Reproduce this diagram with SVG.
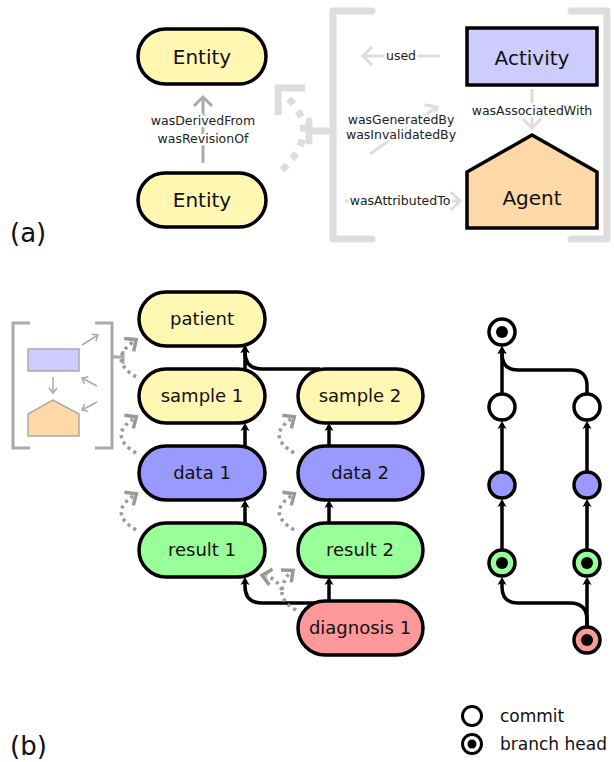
<svg xmlns="http://www.w3.org/2000/svg" width="614" height="762" viewBox="0 0 614 762">
<style>
text{font-family:"DejaVu Sans","Liberation Sans",sans-serif;fill:#111;}
.node{stroke:#000;stroke-width:3.5;}
.yel{fill:#fff7b2;}
.blu{fill:#9999ff;}
.grn{fill:#99ff99;}
.red{fill:#ff9999;}
.big{font-size:20px;text-anchor:middle;}
.nt{font-size:18px;text-anchor:middle;}
.lbl{font-size:12.5px;text-anchor:middle;fill:#222;stroke:#fff;stroke-width:5;paint-order:stroke;stroke-linejoin:round;}
.lt{fill:none;stroke:#ddd;stroke-width:3;}
.br{fill:none;stroke:#ddd;stroke-width:7;stroke-linecap:round;stroke-linejoin:round;}
.con{fill:none;stroke:#000;stroke-width:3.5;}
.dot{fill:none;stroke:#999;stroke-width:3.5;stroke-dasharray:3 4;}
.mini{fill:none;stroke:#aaa;stroke-width:1.5;}
.gnode{stroke:#000;stroke-width:3.5;}
</style>
<defs>
<marker id="ah" markerUnits="userSpaceOnUse" viewBox="-8 -8 16 16" markerWidth="16" markerHeight="16" refX="0" refY="0" orient="auto">
<path d="M -5 -4.5 L 3 0 L -5 4.5 L -3 0 z" fill="#000"/>
</marker>
<marker id="gl" markerUnits="userSpaceOnUse" viewBox="-12 -12 24 24" markerWidth="24" markerHeight="24" refX="0" refY="0" orient="auto">
<path d="M -9 -9 L 0 0 L -9 9" fill="none" stroke="#ddd" stroke-width="3"/>
</marker>
<marker id="gd" markerUnits="userSpaceOnUse" viewBox="-12 -12 24 24" markerWidth="24" markerHeight="24" refX="0" refY="0" orient="auto">
<path d="M -9 -9 L 0 0 L -9 9" fill="none" stroke="#aaa" stroke-width="3"/>
</marker>
<marker id="gb" markerUnits="userSpaceOnUse" viewBox="-30 -30 60 60" markerWidth="60" markerHeight="60" refX="0" refY="0" orient="auto">
<path d="M -5 -19 L 14 0 L -5 19" fill="none" stroke="#ddd" stroke-width="7"/>
</marker>
<marker id="gp" markerUnits="userSpaceOnUse" viewBox="-12 -12 24 24" markerWidth="24" markerHeight="24" refX="0" refY="0" orient="auto">
<path d="M -5 -8 L 4 0 L -5 8" fill="none" stroke="#999" stroke-width="3.5"/>
</marker>
<marker id="gm" markerUnits="userSpaceOnUse" viewBox="-8 -8 16 16" markerWidth="16" markerHeight="16" refX="0" refY="0" orient="auto">
<path d="M -5 -4 L 0 0 L -5 4" fill="none" stroke="#aaa" stroke-width="1.5"/>
</marker>
</defs>
<rect width="614" height="762" fill="#fff"/>

<!-- Panel (a) -->
<text x="10" y="242" font-size="26">(a)</text>
<g id="a-bracket">
<path class="br" d="M 372 11 L 333 11 L 333 239 L 372 239"/>
<path class="br" d="M 571 11 L 607 11 L 607 239 L 571 239"/>
<path class="br" d="M 333 131 L 309 131 M 309 121 L 309 141"/>
</g>
<g id="a-connectors">
<path d="M 203 163 L 203 97" fill="none" stroke="#aaa" stroke-width="3" marker-end="url(#gd)"/>
<path d="M 282 170 Q 322 132 288 98" fill="none" stroke="#ddd" stroke-width="7" stroke-dasharray="7 8" marker-end="url(#gb)"/>
<path class="lt" d="M 440 56 L 363 56" marker-end="url(#gl)"/>
<path class="lt" d="M 532 89 L 532 128" marker-end="url(#gl)"/>
<path class="lt" d="M 370 154 L 437 107" marker-end="url(#gl)"/>
<path class="lt" d="M 345 201 L 460 201" marker-end="url(#gl)"/>
<text class="lbl" x="203" y="125">wasDerivedFrom</text>
<text class="lbl" x="203" y="143">wasRevisionOf</text>
<text class="lbl" x="401" y="60">used</text>
<text class="lbl" x="532" y="115">wasAssociatedWith</text>
<text class="lbl" x="401" y="124">wasGeneratedBy</text>
<text class="lbl" x="401" y="139">wasInvalidatedBy</text>
<text class="lbl" x="400" y="205">wasAttributedTo</text>
</g>
<g id="entity1">
<rect class="node yel" x="138" y="29" width="128" height="55" rx="27.5"/>
<text class="big" x="202" y="64">Entity</text>
</g>
<g id="entity2">
<rect class="node yel" x="138" y="173" width="128" height="54" rx="27"/>
<text class="big" x="202" y="207">Entity</text>
</g>
<g id="activity">
<rect class="node" fill="#ccccff" x="467" y="28" width="130" height="57"/>
<text class="big" x="532" y="65" font-size="21">Activity</text>
</g>
<g id="agent">
<polygon class="node" fill="#ffd8a8" points="467,172 532,135 597,172 597,228 467,228"/>
<text class="big" x="532" y="205" font-size="21">Agent</text>
</g>

<!-- Panel (b) -->
<text x="10" y="755" font-size="26">(b)</text>
<g id="mini-legend">
<path fill="none" stroke="#aaa" stroke-width="3" d="M 30 323 L 13 323 L 13 448 L 30 448"/>
<path fill="none" stroke="#aaa" stroke-width="3" d="M 95 323 L 112 323 L 112 448 L 95 448"/>
<path fill="none" stroke="#aaa" stroke-width="3" d="M 112 357 L 123 357 M 123 351 L 123 364"/>
<rect x="28" y="349" width="51" height="22" fill="#ccccff" stroke="#aaa" stroke-width="1.5"/>
<polygon points="28,414 53,400 79,414 79,436 28,436" fill="#ffd8a8" stroke="#aaa" stroke-width="1.5"/>
<path class="mini" d="M 53 377 L 53 393" marker-end="url(#gm)"/>
<path class="mini" d="M 82 345 L 98 335" marker-end="url(#gm)"/>
<path class="mini" d="M 97 386 L 82 378" marker-end="url(#gm)"/>
<path class="mini" d="M 97 402 L 82 410" marker-end="url(#gm)"/>
</g>
<g id="b-connectors">
<path class="con" d="M 245 369 L 245 348" marker-end="url(#ah)"/>
<path class="con" d="M 320 369 L 262 369 Q 245 369 245 352 L 245 348" marker-end="url(#ah)"/>
<path class="con" d="M 245 446 L 245 426" marker-end="url(#ah)"/>
<path class="con" d="M 245 523 L 245 503" marker-end="url(#ah)"/>
<path class="con" d="M 318 603 L 262 603 Q 245 603 245 586 L 245 580" marker-end="url(#ah)"/>
<path class="con" d="M 329 447 L 329 426" marker-end="url(#ah)"/>
<path class="con" d="M 329 524 L 329 503" marker-end="url(#ah)"/>
<path class="con" d="M 329 601 L 329 580" marker-end="url(#ah)"/>
<path class="dot" d="M 136 377 Q 108 360 133 342" marker-end="url(#gp)"/>
<path class="dot" d="M 136 453 Q 108 436 133 419" marker-end="url(#gp)"/>
<path class="dot" d="M 136 530 Q 108 513 133 496" marker-end="url(#gp)"/>
<path class="dot" d="M 294 453 Q 266 436 291 419" marker-end="url(#gp)"/>
<path class="dot" d="M 294 530 Q 266 513 291 496" marker-end="url(#gp)"/>
<path class="dot" d="M 296 610 Q 281 602 282 590"/>
<path class="dot" d="M 282 590 Q 276 578 266 576" marker-end="url(#gp)"/>
<path class="dot" d="M 282 590 Q 284 578 290 573" marker-end="url(#gp)"/>
</g>
<g id="patient"><rect class="node yel" x="139" y="292" width="126" height="54" rx="27"/><text class="nt" x="202" y="325">patient</text></g>
<g id="sample1"><rect class="node yel" x="139" y="369" width="126" height="54" rx="27"/><text class="nt" x="202" y="402">sample 1</text></g>
<g id="data1"><rect class="node blu" x="139" y="446" width="126" height="54" rx="27"/><text class="nt" x="202" y="479">data 1</text></g>
<g id="result1"><rect class="node grn" x="139" y="523" width="126" height="54" rx="27"/><text class="nt" x="202" y="556">result 1</text></g>
<g id="sample2"><rect class="node yel" x="298" y="369" width="125" height="54" rx="27"/><text class="nt" x="360" y="402">sample 2</text></g>
<g id="data2"><rect class="node blu" x="298" y="446" width="125" height="54" rx="27"/><text class="nt" x="360" y="479">data 2</text></g>
<g id="result2"><rect class="node grn" x="298" y="523" width="125" height="54" rx="27"/><text class="nt" x="360" y="556">result 2</text></g>
<g id="diagnosis1"><rect class="node red" x="298" y="601" width="125" height="54" rx="27"/><text class="nt" x="360" y="634">diagnosis 1</text></g>

<!-- git graph -->
<g id="git-connectors">
<path class="con" d="M 502 394 L 502 349" marker-end="url(#ah)"/>
<path class="con" d="M 587 394 L 587 386 Q 587 370 571 370 L 518 370 Q 502 370 502 354 L 502 349" marker-end="url(#ah)"/>
<path class="con" d="M 502 472 L 502 424" marker-end="url(#ah)"/>
<path class="con" d="M 502 550 L 502 502" marker-end="url(#ah)"/>
<path class="con" d="M 587 472 L 587 424" marker-end="url(#ah)"/>
<path class="con" d="M 587 550 L 587 502" marker-end="url(#ah)"/>
<path class="con" d="M 587 627 L 587 580" marker-end="url(#ah)"/>
<path class="con" d="M 587 627 L 587 620 Q 587 603 570 603 L 518 603 Q 502 603 502 587 L 502 580" marker-end="url(#ah)"/>
</g>
<g id="g-patient"><circle class="gnode" cx="502" cy="332" r="13" fill="#fff"/><circle cx="502" cy="332" r="6" fill="#000"/></g>
<g id="g-sample1"><circle class="gnode" cx="502" cy="407" r="13" fill="#fff"/></g>
<g id="g-sample2"><circle class="gnode" cx="587" cy="407" r="13" fill="#fff"/></g>
<g id="g-data1"><circle class="gnode" cx="502" cy="485" r="13" fill="#9999ff"/></g>
<g id="g-data2"><circle class="gnode" cx="587" cy="485" r="13" fill="#9999ff"/></g>
<g id="g-result1"><circle class="gnode" cx="502" cy="563" r="13" fill="#99ff99"/><circle cx="502" cy="563" r="6" fill="#000"/></g>
<g id="g-result2"><circle class="gnode" cx="587" cy="563" r="13" fill="#99ff99"/><circle cx="587" cy="563" r="6" fill="#000"/></g>
<g id="g-diagnosis"><circle class="gnode" cx="587" cy="640" r="13" fill="#ff9999"/><circle cx="587" cy="640" r="6" fill="#000"/></g>

<g id="legend">
<circle cx="472" cy="716" r="9.5" fill="#fff" stroke="#000" stroke-width="3"/>
<text x="500" y="722" font-size="17">commit</text>
<circle cx="472" cy="744" r="9.5" fill="#fff" stroke="#000" stroke-width="3"/>
<circle cx="472" cy="744" r="4.5" fill="#000"/>
<text x="500" y="750" font-size="17">branch head</text>
</g>
</svg>
